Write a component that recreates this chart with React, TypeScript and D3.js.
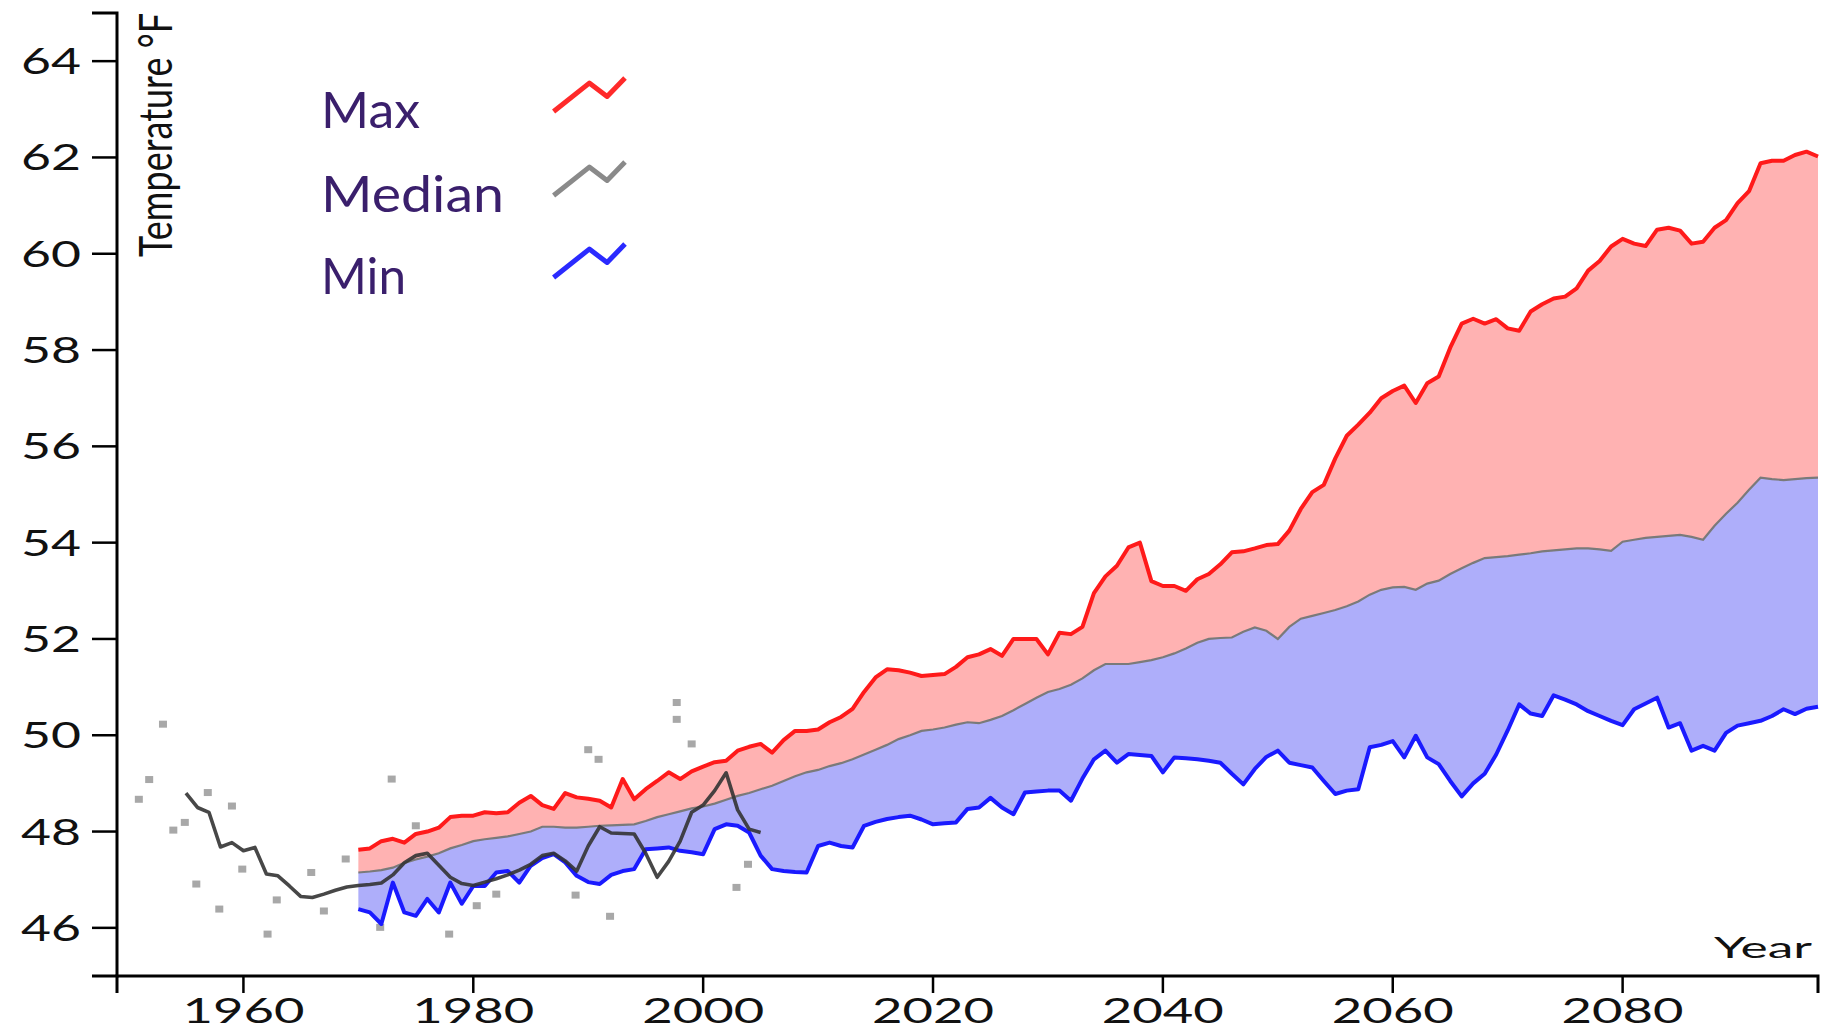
import React from 'react';
import * as d3 from 'd3';

// ---------- data ----------
const projectionStartYear = 1970;

const maxTemps = [
  47.62, 47.65, 47.80, 47.85, 47.77, 47.95, 48.00, 48.08, 48.30, 48.33,
  48.33, 48.40, 48.38, 48.40, 48.60, 48.74, 48.55, 48.47, 48.80, 48.71,
  48.68, 48.64, 48.50, 49.09, 48.67, 48.88, 49.05, 49.23, 49.09, 49.25,
  49.35, 49.44, 49.47, 49.68, 49.76, 49.82, 49.64, 49.90, 50.09, 50.09,
  50.12, 50.27, 50.38, 50.55, 50.90, 51.20, 51.37, 51.35, 51.30, 51.23,
  51.25, 51.27, 51.42, 51.62, 51.68, 51.79, 51.65, 52.00, 52.00, 52.00,
  51.68, 52.13, 52.10, 52.25, 52.95, 53.30, 53.52, 53.90, 54.00, 53.20,
  53.10, 53.10, 53.00, 53.24, 53.35, 53.55, 53.80, 53.82, 53.88, 53.95,
  53.97, 54.25, 54.70, 55.05, 55.20, 55.75, 56.22, 56.45, 56.70, 57.00,
  57.15, 57.26, 56.90, 57.31, 57.45, 58.05, 58.55, 58.65, 58.55, 58.64,
  58.45, 58.40, 58.80, 58.95, 59.07, 59.11, 59.28, 59.65, 59.85, 60.15,
  60.31, 60.21, 60.16, 60.50, 60.54, 60.48, 60.21, 60.25, 60.54, 60.70,
  61.05, 61.30, 61.88, 61.93, 61.93, 62.05, 62.12, 62.02,
];

const medianTemps = [
  47.15, 47.17, 47.20, 47.25, 47.35, 47.42, 47.48, 47.55, 47.65, 47.72,
  47.80, 47.84, 47.87, 47.90, 47.95, 48.00, 48.10, 48.10, 48.08, 48.08,
  48.10, 48.12, 48.13, 48.14, 48.15, 48.22, 48.30, 48.36, 48.42, 48.48,
  48.52, 48.58, 48.66, 48.74, 48.80, 48.88, 48.95, 49.05, 49.15, 49.23,
  49.28, 49.36, 49.42, 49.50, 49.60, 49.70, 49.80, 49.92, 50.00, 50.09,
  50.12, 50.16, 50.22, 50.27, 50.25, 50.32, 50.40, 50.52, 50.65, 50.78,
  50.90, 50.96, 51.05, 51.18, 51.35, 51.48, 51.48, 51.48, 51.52, 51.56,
  51.62, 51.70, 51.80, 51.92, 52.00, 52.02, 52.03, 52.15, 52.24, 52.17,
  52.00, 52.25, 52.42, 52.48, 52.54, 52.60, 52.68, 52.78, 52.92, 53.02,
  53.07, 53.08, 53.02, 53.15, 53.21, 53.35, 53.47, 53.58, 53.68, 53.70,
  53.72, 53.75, 53.78, 53.82, 53.84, 53.86, 53.88, 53.88, 53.86, 53.83,
  54.02, 54.06, 54.10, 54.12, 54.14, 54.16, 54.12, 54.06, 54.35, 54.60,
  54.83, 55.10, 55.35, 55.32, 55.30, 55.32, 55.34, 55.35,
];

const minTemps = [
  46.39, 46.32, 46.08, 46.94, 46.32, 46.25, 46.60, 46.32, 46.94, 46.50,
  46.87, 46.87, 47.15, 47.18, 46.94, 47.29, 47.45, 47.53, 47.36, 47.08,
  46.95, 46.91, 47.10, 47.18, 47.22, 47.63, 47.65, 47.67, 47.60, 47.57,
  47.53, 48.05, 48.15, 48.12, 47.98, 47.50, 47.22, 47.18, 47.16, 47.15,
  47.70, 47.77, 47.70, 47.67, 48.12, 48.20, 48.26, 48.30, 48.33, 48.25,
  48.15, 48.17, 48.19, 48.47, 48.50, 48.70, 48.50, 48.36, 48.81, 48.83,
  48.85, 48.85, 48.64, 49.10, 49.50, 49.68, 49.43, 49.61, 49.59, 49.57,
  49.23, 49.54, 49.52, 49.50, 49.47, 49.43, 49.20, 48.98, 49.30, 49.55,
  49.68, 49.43, 49.38, 49.33, 49.05, 48.78, 48.85, 48.88, 49.75, 49.80,
  49.88, 49.54, 49.99, 49.54, 49.40, 49.05, 48.73, 49.00, 49.20, 49.60,
  50.10, 50.64, 50.45, 50.40, 50.83, 50.74, 50.64, 50.50, 50.40, 50.30,
  50.21, 50.54, 50.66, 50.78, 50.16, 50.25, 49.68, 49.78, 49.68, 50.05,
  50.20, 50.25, 50.30, 50.40, 50.54, 50.44, 50.55, 50.59,
];

const observedStartYear = 1955;
const observedTemps = [
  48.80, 48.50, 48.40, 47.68, 47.77, 47.60, 47.67, 47.12, 47.08, 46.87,
  46.65, 46.63, 46.70, 46.78, 46.85, 46.88, 46.90, 46.93, 47.10, 47.35,
  47.50, 47.55, 47.30, 47.05, 46.92, 46.88, 46.95, 47.02, 47.10, 47.20,
  47.32, 47.50, 47.55, 47.39, 47.18, 47.70, 48.10, 47.97, 47.96, 47.95,
  47.55, 47.05, 47.38, 47.80, 48.40, 48.55, 48.85, 49.22, 48.45, 48.05,
  47.98,
];

const scatterYears = [
  1950.9, 1951.8, 1953.0, 1953.9, 1954.9, 1955.9, 1956.9, 1957.9, 1959.0, 1959.9,
  1962.1, 1962.9, 1965.9, 1967.0, 1968.9, 1971.9, 1972.9, 1975.0, 1977.9, 1980.3,
  1982.0, 1988.9, 1990.0, 1990.9, 1991.9, 1997.7, 1997.7, 1999.0, 2002.9, 2003.9,
];
const scatterTemps = [
  48.67, 49.08, 50.23, 48.03, 48.19, 46.91, 48.81, 46.39, 48.53, 47.22,
  45.87, 46.58, 47.15, 46.35, 47.43, 46.01, 49.09, 48.12, 45.87, 46.46,
  46.70, 46.68, 49.70, 49.50, 46.24, 50.68, 50.33, 49.82, 46.84, 47.32,
];

const xTickValues = [1960, 1980, 2000, 2020, 2040, 2060, 2080];
const yTickValues = [46, 48, 50, 52, 54, 56, 58, 60, 62, 64];

const legendLabels = ['Max', 'Median', 'Min'];
const legendColors = ['#ff2a2a', '#8a8a8a', '#2a2aff'];
// small zig-zag glyph used as legend key (relative offsets)
const legendGlyph: [number, number][] = [[0, 0], [35.7, -28.4], [53.5, -15], [71.4, -33.4]];

// ---------- layout / style ----------
const W = 1836;
const H = 1032;
const FONT = "Lato, 'Open Sans', 'DejaVu Sans', sans-serif";
const legendTextLengths = [99, 183, 85];
const legendBaselines = [128, 212, 294];

export default function App() {
  const x = d3.scaleLinear().domain([1949, 2097]).range([117, 1818]);
  const y = d3.scaleLinear().domain([45, 65]).range([976, 13]);

  const proj = maxTemps.map((v, i) => ({
    year: projectionStartYear + i,
    max: v,
    median: medianTemps[i],
    min: minTemps[i],
  }));
  const obs = observedTemps.map((v, i) => ({ year: observedStartYear + i, v }));

  const upperArea = d3.area<any>().x((d) => x(d.year)).y0((d) => y(d.median)).y1((d) => y(d.max));
  const lowerArea = d3.area<any>().x((d) => x(d.year)).y0((d) => y(d.min)).y1((d) => y(d.median));
  const lineOf = (key: string) => d3.line<any>().x((d) => x(d.year)).y((d) => y(d[key]))(proj) || '';
  const obsLine = d3.line<any>().x((d) => x(d.year)).y((d) => y(d.v))(obs) || '';
  const glyphLine = d3.line<[number, number]>().x((d) => d[0]).y((d) => d[1]);

  const [x0, x1] = x.range();
  const [yb, yt] = y.range();
  const yTick = 25;
  const xTick = 17;

  return (
    <svg
      width={W}
      height={H}
      viewBox={`0 0 ${W} ${H}`}
      style={{ position: 'absolute', left: 0, top: 0, background: '#fff', display: 'block' }}
    >
      <rect x={0} y={0} width={W} height={H} fill="#fff" />

      {/* scattered observations */}
      <g fill="#a8a8a8">
        {scatterYears.map((yr, i) => (
          <rect key={i} x={x(yr) - 4} y={y(scatterTemps[i]) - 3.5} width={8} height={7} />
        ))}
      </g>

      {/* bands */}
      <path d={upperArea(proj) || ''} fill="rgb(255,178,178)" />
      <path d={lowerArea(proj) || ''} fill="rgb(174,174,250)" />

      {/* lines */}
      <path d={lineOf('median')} fill="none" stroke="#7a7a7a" strokeWidth={2.2} />
      <path d={lineOf('max')} fill="none" stroke="#ff1a1a" strokeWidth={4} strokeLinejoin="round" />
      <path d={lineOf('min')} fill="none" stroke="#1a1aff" strokeWidth={4} strokeLinejoin="round" />
      <path d={obsLine} fill="none" stroke="#333" strokeWidth={3.6} strokeLinejoin="round" opacity={0.9} />

      {/* y axis */}
      <path
        d={`M${x0 - yTick},${yt}H${x0}V${yb}H${x0 - yTick}`}
        fill="none"
        stroke="#000"
        strokeWidth={3}
      />
      {yTickValues.map((v) => (
        <g key={v}>
          <line x1={x0 - yTick} x2={x0} y1={y(v)} y2={y(v)} stroke="#000" strokeWidth={2.5} />
          <text
            x={81}
            y={y(v) + 13}
            textAnchor="end"
            fontFamily={FONT}
            fontSize={37}
            textLength={60}
            lengthAdjust="spacingAndGlyphs"
            fill="#111"
          >
            {v}
          </text>
        </g>
      ))}

      {/* x axis */}
      <path
        d={`M${x0},${yb + xTick}V${yb}H${x1}V${yb + xTick}`}
        fill="none"
        stroke="#000"
        strokeWidth={3}
      />
      {xTickValues.map((t) => (
        <g key={t}>
          <line x1={x(t)} x2={x(t)} y1={yb} y2={yb + xTick} stroke="#000" strokeWidth={2.5} />
          <text
            x={x(t)}
            y={1023}
            textAnchor="middle"
            fontFamily={FONT}
            fontSize={35}
            textLength={122}
            lengthAdjust="spacingAndGlyphs"
            fill="#111"
          >
            {t}
          </text>
        </g>
      ))}

      {/* axis titles */}
      <text
        transform="translate(172,257) scale(1.45,1) rotate(-90)"
        fontFamily={FONT}
        fontSize={32}
        textLength={244}
        lengthAdjust="spacingAndGlyphs"
        fill="#111"
      >
        Temperature °F
      </text>
      <text
        x={1812}
        y={958}
        textAnchor="end"
        fontFamily={FONT}
        fontSize={29}
        textLength={98}
        lengthAdjust="spacingAndGlyphs"
        fill="#111"
      >
        Year
      </text>

      {/* legend */}
      {legendLabels.map((lab, i) => (
        <g key={lab}>
          <text
            x={321}
            y={legendBaselines[i]}
            fontFamily={FONT}
            fontSize={50}
            textLength={legendTextLengths[i]}
            lengthAdjust="spacingAndGlyphs"
            fill="#3a1f6c"
          >
            {lab}
          </text>
          <path
            transform={`translate(553.6,${legendBaselines[i] - 16.5})`}
            d={glyphLine(legendGlyph) || ''}
            fill="none"
            stroke={legendColors[i]}
            strokeWidth={5}
            strokeLinejoin="round"
          />
        </g>
      ))}
    </svg>
  );
}
